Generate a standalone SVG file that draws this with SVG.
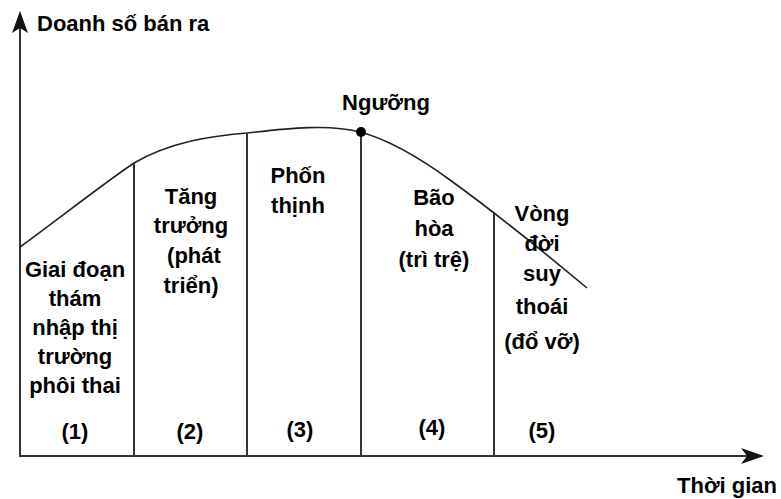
<svg xmlns="http://www.w3.org/2000/svg" width="781" height="499" viewBox="0 0 781 499">
  <style>
    .lbl { font-family: "Liberation Sans", Arial, sans-serif; font-weight: bold; font-size: 22px; fill: #000; }
    .mid { text-anchor: middle; }
    .end { text-anchor: end; }
    .axis { stroke: #333; stroke-width: 2; fill: none; }
    .sep { stroke: #333; stroke-width: 2; fill: none; }
    .curve { stroke: #222; stroke-width: 1.6; fill: none; }
  </style>
  <rect width="781" height="499" fill="#fff"/>

  <!-- axes -->
  <g id="axes">
    <line class="axis" x1="20" y1="24" x2="20" y2="457"/>
    <line class="axis" x1="19" y1="456" x2="752" y2="456"/>
    <polygon points="20,11 28,33 20,28 12,33" fill="#111"/>
    <polygon points="764,456 741,448 747,456 741,464" fill="#111"/>
    <text class="lbl" x="37" y="31">Doanh số bán ra</text>
    <text class="lbl end" x="777" y="493">Thời gian</text>
  </g>

  <!-- sales curve and stage separators -->
  <g id="connectors">
    <path class="curve" d="M20,247 C60,218 100,186 134,163 C170,142 210,136 247,133 C290,128 330,124 360,132 C390,140 420,158 450,180 C500,216 545,253 587,288"/>
    <line class="sep" x1="134" y1="163" x2="134" y2="457"/>
    <line class="sep" x1="247" y1="133" x2="247" y2="457"/>
    <line class="sep" x1="361" y1="132" x2="361" y2="457"/>
    <line class="sep" x1="494" y1="213" x2="494" y2="457"/>
    <circle cx="361" cy="132" r="5" fill="#000"/>
  </g>

  <g id="threshold">
    <text class="lbl mid" x="386" y="110">Ngưỡng</text>
  </g>

  <g id="stage1">
    <text class="lbl mid" x="75" y="277">Giai đoạn</text>
    <text class="lbl mid" x="75" y="306">thám</text>
    <text class="lbl mid" x="75" y="335">nhập thị</text>
    <text class="lbl mid" x="75" y="364">trường</text>
    <text class="lbl mid" x="75" y="393">phôi thai</text>
    <text class="lbl mid" x="75" y="439">(1)</text>
  </g>

  <g id="stage2">
    <text class="lbl mid" x="191" y="204">Tăng</text>
    <text class="lbl mid" x="191" y="233">trưởng</text>
    <text class="lbl mid" x="194" y="263">(phát</text>
    <text class="lbl mid" x="191" y="293">triển)</text>
    <text class="lbl mid" x="190" y="439">(2)</text>
  </g>

  <g id="stage3">
    <text class="lbl mid" x="298" y="183">Phốn</text>
    <text class="lbl mid" x="298" y="213">thịnh</text>
    <text class="lbl mid" x="300" y="437">(3)</text>
  </g>

  <g id="stage4">
    <text class="lbl mid" x="434" y="205">Bão</text>
    <text class="lbl mid" x="434" y="236">hòa</text>
    <text class="lbl mid" x="434" y="267">(trì trệ)</text>
    <text class="lbl mid" x="432" y="435">(4)</text>
  </g>

  <g id="stage5">
    <text class="lbl mid" x="542" y="221">Vòng</text>
    <text class="lbl mid" x="542" y="251">đời</text>
    <text class="lbl mid" x="542" y="281">suy</text>
    <text class="lbl mid" x="542" y="314">thoái</text>
    <text class="lbl mid" x="542" y="349">(đổ vỡ)</text>
    <text class="lbl mid" x="542" y="438">(5)</text>
  </g>
</svg>
